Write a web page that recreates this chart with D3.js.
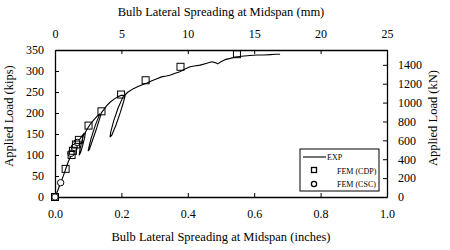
<!DOCTYPE html>
<html>
<head>
<meta charset="utf-8">
<script src="https://cdn.jsdelivr.net/npm/d3@7"></script>
<style>
  body { margin: 0; background: #fff; }
  svg text { font-family: "Liberation Serif", "Times New Roman", serif; fill: #000; }
</style>
</head>
<body>
<svg id="chart" width="450" height="250"></svg>
<script>
const expInch = [0, 0.008, 0.016, 0.024, 0.032, 0.04, 0.05, 0.058, 0.066, 0.075, 0.082, 0.088,
  0.081, 0.075, 0.073, 0.077, 0.083, 0.089, 0.092,
  0.097, 0.105, 0.115, 0.125, 0.135,
  0.121, 0.109, 0.102, 0.1, 0.104, 0.113, 0.126, 0.135, 0.14,
  0.147, 0.155, 0.165, 0.178, 0.19, 0.2, 0.207,
  0.19, 0.177, 0.168, 0.166, 0.171, 0.184, 0.197, 0.207, 0.212,
  0.22, 0.236, 0.25, 0.265, 0.276, 0.29, 0.305, 0.321, 0.335, 0.346, 0.36, 0.376, 0.39, 0.407,
  0.42, 0.437, 0.455, 0.472, 0.482, 0.49, 0.5, 0.512, 0.528, 0.542, 0.562, 0.587, 0.61, 0.63,
  0.648, 0.665, 0.678];
const expKips = [0, 15, 32, 48, 66, 84, 102, 116, 128, 138, 146, 152,
  133, 112, 100, 106, 122, 140, 155,
  162, 172, 182, 191, 198,
  170, 140, 118, 110, 114, 135, 165, 188, 201,
  208, 217, 225, 233, 239, 242, 242,
  212, 182, 155, 143, 147, 172, 202, 228, 244,
  250, 258, 263, 268, 271, 276, 281, 286, 288, 290, 294, 298, 304, 310,
  312, 314, 318, 322, 320, 317, 322, 327, 330, 333, 335, 337, 338, 338,
  339, 340, 340];

// FEM (CDP) squares
const cdpInch = [0, 0.032, 0.05, 0.054, 0.063, 0.072, 0.101, 0.14, 0.199, 0.273, 0.378, 0.548];
const cdpKips = [0, 67, 100, 110, 125, 136, 170, 204, 244, 278, 310, 340];

// FEM (CSC) circles
const cscInch = [0, 0.017, 0.048, 0.058, 0.067];
const cscKips = [0, 34, 104, 118, 130];

const bottomTicks = [0, 0.2, 0.4, 0.6, 0.8, 1.0];
const topTicks = [0, 5, 10, 15, 20, 25];
const leftTicks = [0, 50, 100, 150, 200, 250, 300, 350];
const rightTicks = [0, 200, 400, 600, 800, 1000, 1200, 1400];
const KIP_TO_KN = 4.44822;

const svg = d3.select("#chart");
const margin = { top: 50, right: 63, bottom: 53, left: 55 };
const width = 450 - margin.left - margin.right,
      height = 250 - margin.top - margin.bottom;
const g = svg.append("g").attr("transform", "translate(" + margin.left + "," + margin.top + ")");

const x = d3.scaleLinear().domain([0, 1]).range([0, width]);
const xMM = d3.scaleLinear().domain([0, 25]).range([0, width]);
const y = d3.scaleLinear().domain([0, 350]).range([height, 0]);
const yKN = d3.scaleLinear().domain([0, 350 * KIP_TO_KN]).range([height, 0]);

function styleAxis(sel) {
  sel.attr("font-family", null).attr("font-size", null);
  sel.selectAll("path").attr("stroke", "#000").attr("stroke-width", 1.3);
  sel.selectAll("line").attr("stroke", "#000").attr("stroke-width", 1);
  sel.selectAll("text")
    .style("font-size", "12px")
    .style("font-family", "'Liberation Serif', 'Times New Roman', serif")
    .style("fill", "#000");
}

g.append("g").attr("transform", "translate(0," + height + ")")
  .call(d3.axisBottom(x).tickValues(bottomTicks).tickFormat(d3.format(".1f"))
    .tickSizeInner(-4).tickSizeOuter(0).tickPadding(12))
  .call(styleAxis);

g.append("g")
  .call(d3.axisTop(xMM).tickValues(topTicks).tickFormat(d3.format("d"))
    .tickSizeInner(-4).tickSizeOuter(0).tickPadding(12))
  .call(styleAxis);

g.append("g")
  .call(d3.axisLeft(y).tickValues(leftTicks).tickFormat(d3.format("d"))
    .tickSizeInner(-4).tickSizeOuter(0).tickPadding(11))
  .call(styleAxis);

g.append("g").attr("transform", "translate(" + width + ",0)")
  .call(d3.axisRight(yKN).tickValues(rightTicks).tickFormat(d3.format("d"))
    .tickSizeInner(-4).tickSizeOuter(0).tickPadding(11))
  .call(styleAxis);

// axis titles
svg.append("text").attr("x", margin.left + width / 2).attr("y", 16)
  .attr("text-anchor", "middle").style("font-size", "12.5px")
  .text("Bulb Lateral Spreading at Midspan (mm)");
svg.append("text").attr("x", margin.left + width / 2).attr("y", 241)
  .attr("text-anchor", "middle").style("font-size", "12.5px")
  .text("Bulb Lateral Spreading at Midspan (inches)");
svg.append("text").attr("transform", "translate(13," + 116 + ") rotate(-90)")
  .attr("text-anchor", "middle").style("font-size", "12.5px")
  .text("Applied Load (kips)");
svg.append("text").attr("transform", "translate(437," + 118 + ") rotate(-90)")
  .attr("text-anchor", "middle").style("font-size", "12.5px")
  .text("Applied Load (kN)");

// EXP line
const expData = expInch.map((v, i) => ({ x: v, y: expKips[i] }));
const line = d3.line().x(d => x(d.x)).y(d => y(d.y));
g.append("path").datum(expData)
  .attr("d", line)
  .attr("fill", "none")
  .attr("stroke", "#000")
  .attr("stroke-width", 1.1)
  .attr("stroke-linejoin", "round");

// CSC circles
const cscData = cscInch.map((v, i) => ({ x: v, y: cscKips[i] }));
g.selectAll(".csc").data(cscData).enter().append("circle")
  .attr("cx", d => x(d.x)).attr("cy", d => y(d.y)).attr("r", 3.2)
  .attr("fill", "#fff").attr("stroke", "#000").attr("stroke-width", 1);

// CDP squares
const cdpData = cdpInch.map((v, i) => ({ x: v, y: cdpKips[i] }));
g.selectAll(".cdp").data(cdpData).enter().append("rect")
  .attr("x", d => x(d.x) - 3.5).attr("y", d => y(d.y) - 3.5)
  .attr("width", 7).attr("height", 7)
  .attr("fill", "none").attr("stroke", "#000").attr("stroke-width", 1);

// legend
const lg = svg.append("g").attr("transform", "translate(300,149)");
lg.append("rect").attr("width", 79).attr("height", 42)
  .attr("fill", "#fff").attr("stroke", "#000").attr("stroke-width", 1);
lg.append("line").attr("x1", 3).attr("x2", 26).attr("y1", 8).attr("y2", 8)
  .attr("stroke", "#000").attr("stroke-width", 1.1);
lg.append("text").attr("x", 27).attr("y", 11).style("font-size", "8px").text("EXP");
lg.append("rect").attr("x", 11.5).attr("y", 18.5).attr("width", 5).attr("height", 5)
  .attr("fill", "none").attr("stroke", "#000").attr("stroke-width", 1.3);
lg.append("text").attr("x", 37).attr("y", 24.5).style("font-size", "8px").text("FEM (CDP)");
lg.append("circle").attr("cx", 14).attr("cy", 35).attr("r", 2.6)
  .attr("fill", "none").attr("stroke", "#000").attr("stroke-width", 1.3);
lg.append("text").attr("x", 37).attr("y", 38).style("font-size", "8px").text("FEM (CSC)");
</script>
</body>
</html>
